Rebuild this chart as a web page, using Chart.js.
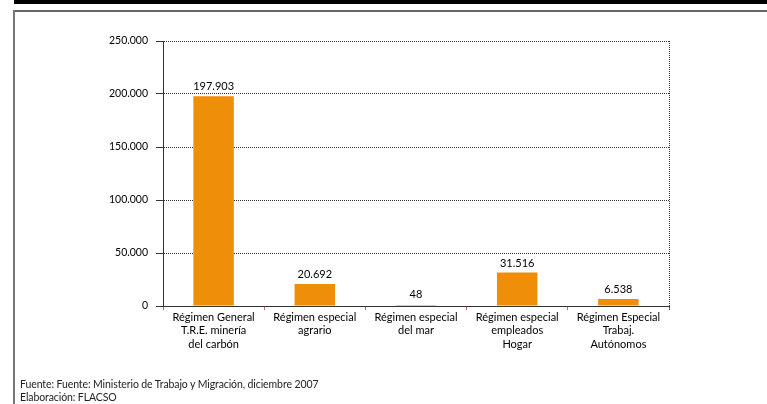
<!DOCTYPE html>
<html>
<head>
<meta charset="utf-8">
<script src="https://cdn.jsdelivr.net/npm/chart.js@4.4.1/dist/chart.umd.min.js"></script>
<style>
  html, body { margin:0; padding:0; background:#fff; }
  #wrap { position:relative; width:767px; height:404px; overflow:hidden; }
  #topbar { position:absolute; left:14px; top:0; width:753px; height:4px; background:#000; }
  #hline { position:absolute; left:13px; top:10px; width:754px; height:2px; background:#666; }
  #vline { position:absolute; left:13px; top:10px; width:2px; height:394px; background:#777; }
  #c { position:absolute; left:0; top:0; }
  .foot { position:absolute; left:20px; font-family: Lato, "Open Sans", sans-serif; font-size:10.5px; color:#222; white-space:nowrap; letter-spacing:-0.1px; }
</style>
</head>
<body>
<div id="wrap">
  <div id="topbar"></div>
  <div id="hline"></div>
  <div id="vline"></div>
  <canvas id="c" width="767" height="404"></canvas>
  <div class="foot" style="top:378px;">Fuente: Fuente: Ministerio de Trabajo y Migración, diciembre 2007</div>
  <div class="foot" style="top:391px;">Elaboración: FLACSO</div>
</div>
<script>
const categories = [
  ["Régimen General", "T.R.E. minería", "del carbón"],
  ["Régimen especial", "agrario"],
  ["Régimen especial", "del mar"],
  ["Régimen especial", "empleados", "Hogar"],
  ["Régimen Especial", "Trabaj.", "Autónomos"]
];
const values = [197903, 20692, 48, 31516, 6538];
const valueLabels = ["197.903", "20.692", "48", "31.516", "6.538"];
const yTicks = [0, 50000, 100000, 150000, 200000, 250000];
const yTickLabels = ["0", "50.000", "100.000", "150.000", "200.000", "250.000"];

const FONT = 'Lato, "Open Sans", sans-serif';

const valueLabelPlugin = {
  id: 'valueLabels',
  afterDatasetsDraw(chart) {
    const ctx = chart.ctx;
    const meta = chart.getDatasetMeta(0);
    ctx.save();
    ctx.font = '11px ' + FONT;
    ctx.fillStyle = '#000';
    ctx.textAlign = 'center';
    ctx.textBaseline = 'bottom';
    meta.data.forEach((bar, i) => {
      const y = Math.min(bar.y, chart.scales.y.getPixelForValue(0) - 2);
      ctx.fillText(valueLabels[i], bar.x, y - 4);
    });
    ctx.restore();
  }
};

const borderPlugin = {
  id: 'rightBorder',
  beforeDatasetsDraw(chart) {
    const a = chart.chartArea;
    const ctx = chart.ctx;
    ctx.save();
    ctx.strokeStyle = '#333';
    ctx.lineWidth = 1;
    ctx.setLineDash([1, 1]);
    ctx.beginPath();
    ctx.moveTo(Math.round(a.right) + 0.5, a.top);
    ctx.lineTo(Math.round(a.right) + 0.5, a.bottom + 4);
    ctx.stroke();
    ctx.restore();
  }
};

new Chart(document.getElementById('c'), {
  type: 'bar',
  data: {
    labels: categories,
    datasets: [{
      data: values,
      backgroundColor: '#EF8E08',
      borderWidth: 0,
      categoryPercentage: 0.8,
      barPercentage: 0.5,
      minBarLength: 1
    }]
  },
  options: {
    responsive: false,
    animation: false,
    events: [],
    layout: { padding: { left: 0, right: 98, top: 41, bottom: 0 } },
    plugins: { legend: { display: false }, tooltip: { enabled: false } },
    scales: {
      x: {
        offset: true,
        grid: { display: true, offset: true, drawOnChartArea: false, drawTicks: true, tickLength: 4, color: '#c07050' },
        border: { display: true, color: '#333', dash: [1, 1] },
        ticks: {
          font: { family: FONT, size: 11 },
          color: '#000',
          padding: 1,
          maxRotation: 0,
          autoSkip: false
        },
        afterFit(scale) { scale.height = 98; }
      },
      y: {
        min: 0,
        max: 250000,
        afterBuildTicks(scale) { scale.ticks = yTicks.map(v => ({ value: v })); },
        grid: { color: '#333', lineWidth: 1, tickLength: 7, drawTicks: true },
        border: { display: true, color: '#333', dash: [1, 1] },
        ticks: {
          font: { family: FONT, size: 10.5 },
          color: '#000',
          padding: 8,
          callback(value) {
            const i = yTicks.indexOf(value);
            return i >= 0 ? yTickLabels[i] : '';
          }
        },
        afterFit(scale) { scale.width = 163; }
      }
    }
  },
  plugins: [valueLabelPlugin, borderPlugin,
    {
      id: 'dashGrid',
      beforeDraw(chart) {
        chart.options.scales.y.grid.borderDash = [1, 1];
      }
    }]
});
</script>
</body>
</html>
